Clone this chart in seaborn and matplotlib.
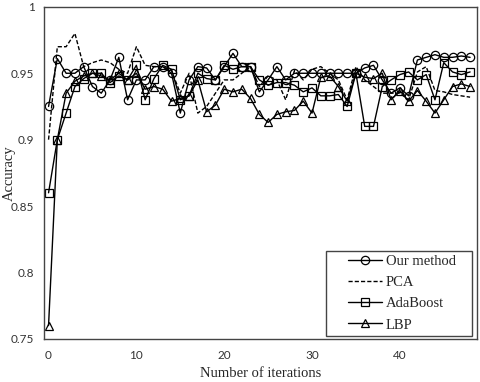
import numpy as np
import pandas as pd
import matplotlib
matplotlib.use("Agg")
import matplotlib.pyplot as plt
from matplotlib.patches import Rectangle
import seaborn as sns

# accuracy per iteration
iterations = list(range(49))

our_method = [0.925, 0.961, 0.950, 0.950, 0.955, 0.940, 0.935, 0.945, 0.962, 0.930,
              0.945, 0.945, 0.955, 0.955, 0.950, 0.920, 0.945, 0.955, 0.954, 0.945,
              0.955, 0.965, 0.955, 0.955, 0.936, 0.945, 0.955, 0.945, 0.950, 0.950,
              0.950, 0.950, 0.950, 0.950, 0.950, 0.950, 0.954, 0.956, 0.945, 0.935,
              0.939, 0.933, 0.960, 0.962, 0.964, 0.962, 0.962, 0.963, 0.962]

pca = [0.900, 0.970, 0.970, 0.980, 0.955, 0.958, 0.960, 0.958, 0.953, 0.950,
       0.970, 0.956, 0.955, 0.955, 0.952, 0.935, 0.950, 0.920, 0.925, 0.935,
       0.945, 0.945, 0.950, 0.955, 0.940, 0.948, 0.945, 0.930, 0.952, 0.945,
       0.953, 0.955, 0.950, 0.945, 0.930, 0.955, 0.945, 0.940, 0.935, 0.935,
       0.935, 0.930, 0.951, 0.955, 0.937, 0.936, 0.934, 0.933, 0.932]

adaboost = [0.860, 0.900, 0.920, 0.940, 0.946, 0.950, 0.950, 0.943, 0.948, 0.945,
            0.956, 0.930, 0.946, 0.956, 0.953, 0.930, 0.933, 0.950, 0.946, 0.945,
            0.956, 0.953, 0.955, 0.955, 0.945, 0.941, 0.943, 0.943, 0.941, 0.936,
            0.939, 0.933, 0.933, 0.934, 0.925, 0.950, 0.910, 0.910, 0.940, 0.945,
            0.949, 0.951, 0.945, 0.949, 0.930, 0.958, 0.951, 0.949, 0.951]

lbp = [0.760, 0.900, 0.935, 0.944, 0.948, 0.950, 0.948, 0.945, 0.950, 0.945,
       0.950, 0.938, 0.940, 0.938, 0.929, 0.931, 0.933, 0.945, 0.921, 0.926,
       0.938, 0.936, 0.938, 0.931, 0.919, 0.913, 0.919, 0.921, 0.922, 0.929,
       0.920, 0.947, 0.948, 0.940, 0.929, 0.950, 0.947, 0.946, 0.950, 0.930,
       0.937, 0.929, 0.937, 0.929, 0.920, 0.930, 0.940, 0.942, 0.940]

methods = ["Our method", "PCA", "AdaBoost", "LBP"]
series = [our_method, pca, adaboost, lbp]
marker_map = {"Our method": "o", "PCA": None, "AdaBoost": "s", "LBP": "^"}

sns.set_style("white")
plt.rcParams["font.family"] = ["Liberation Serif", "DejaVu Serif"]

fig = plt.figure(figsize=(4.8, 3.82), dpi=100)
ax = fig.add_axes([0.092, 0.113, 0.902, 0.869])

for name, vals in zip(methods, series):
    d = pd.DataFrame({"iteration": iterations, "accuracy": vals})
    kw = dict(color="black", linewidth=1.0, label=name, ax=ax)
    if marker_map[name] is None:
        kw["linestyle"] = (0, (3, 1.5))
    else:
        kw.update(marker=marker_map[name], markersize=6, markerfacecolor="none",
                  markeredgecolor="black", markeredgewidth=0.9)
    sns.lineplot(data=d, x="iteration", y="accuracy", **kw)

ax.set_xlim(-0.5, 48.8)
ax.set_ylim(0.75, 1.0)
ax.set_xticks([0, 10, 20, 30, 40])
ax.set_yticks([0.75, 0.8, 0.85, 0.9, 0.95, 1.0])
ax.set_yticklabels(["0.75", "0.8", "0.85", "0.9", "0.95", "1"])
for lab in ax.get_xticklabels() + ax.get_yticklabels():
    lab.set_fontfamily("Lato")
    lab.set_fontsize(8.5)
    lab.set_color("#333333")
ax.tick_params(axis="y", length=0, pad=7)
ax.tick_params(axis="x", length=0, pad=8)

ax.set_xlabel("Number of iterations", fontsize=10.5, labelpad=4)
ax.set_ylabel("Accuracy", fontsize=10.5)
ax.yaxis.set_label_coords(-0.066, 0.5)

for s in ax.spines.values():
    s.set_color("#444444")
    s.set_linewidth(1.0)

# legend box drawn separately so its padding matches the reference
ax.add_patch(Rectangle((0.651, 0.009), 0.337, 0.256, transform=ax.transAxes,
                       facecolor="white", edgecolor="#444444", linewidth=1.0, zorder=4))
leg = ax.legend(loc="lower left", bbox_to_anchor=(0.702, 0.022), fontsize=10.5,
                frameon=False, handlelength=2.35, handletextpad=0.25,
                labelspacing=0.55, borderpad=0.0, borderaxespad=0.0)
leg.set_zorder(5)

fig.savefig("out.png", dpi=100)
